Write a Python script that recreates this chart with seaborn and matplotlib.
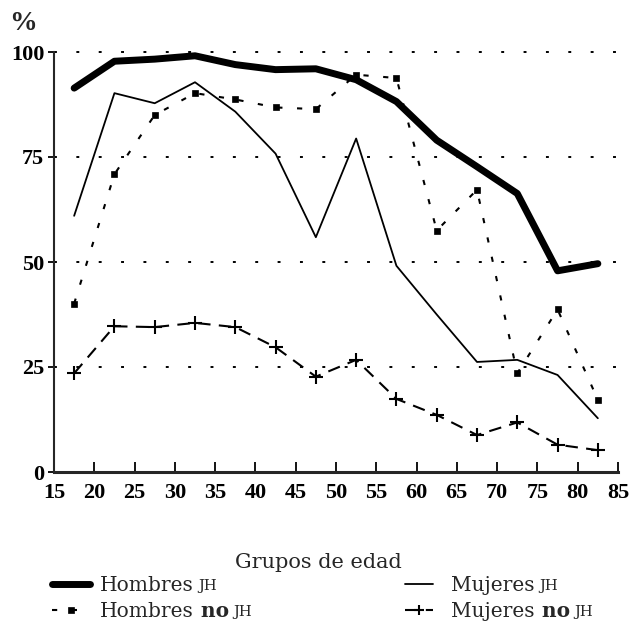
import matplotlib
matplotlib.use("Agg")
import matplotlib.pyplot as plt
import seaborn as sns
from matplotlib.text import Annotation

# Values (midpoint of each 5-year age group, %)
age_groups = [17.5, 22.5, 27.5, 32.5, 37.5, 42.5, 47.5, 52.5, 57.5, 62.5, 67.5, 72.5, 77.5, 82.5]
hombres_jh = [91.4, 97.8, 98.3, 99.1, 97.0, 95.8, 96.0, 93.4, 88.2, 79.0, 72.7, 66.3, 47.9, 49.6]
hombres_no_jh = [40.1, 70.9, 85.0, 90.2, 88.7, 86.8, 86.4, 94.6, 93.8, 57.5, 67.2, 23.5, 38.7, 17.2]
mujeres_jh = [61.0, 90.2, 87.8, 92.8, 85.8, 75.8, 55.9, 79.4, 49.1, 37.5, 26.2, 26.7, 23.1, 12.8]
mujeres_no_jh = [23.5, 34.7, 34.5, 35.5, 34.5, 29.7, 22.7, 26.7, 17.4, 13.6, 8.8, 11.8, 6.5, 5.2]

x_ticks = list(range(15, 90, 5))
y_ticks = [0, 25, 50, 75, 100]
xlabel = "Grupos de edad"

sns.set_style("ticks")
plt.rcParams["font.family"] = ["DejaVu Serif"]

fig = plt.figure(figsize=(6.3, 6.23), dpi=100)
ax = fig.add_axes([54 / 630, 1 - 472 / 623, 564 / 630, 420 / 623])

# the four series
sns.lineplot(x=age_groups, y=hombres_jh, ax=ax, color="black", linewidth=5,
             legend=False, label="Hombres")
sns.lineplot(x=age_groups, y=hombres_no_jh, ax=ax, color="black", linewidth=1.5,
             linestyle=(0, (2.5, 7)), marker="s", markersize=4,
             markerfacecolor="black", markeredgecolor="black", markeredgewidth=0.5,
             legend=False, label="Hombres")
sns.lineplot(x=age_groups, y=mujeres_jh, ax=ax, color="black", linewidth=1.3,
             legend=False, label="Mujeres")
sns.lineplot(x=age_groups, y=mujeres_no_jh, ax=ax, color="black", linewidth=1.5,
             linestyle=(0, (6, 4)), marker="+", markersize=10,
             markeredgecolor="black", markeredgewidth=1.5,
             legend=False, label="Mujeres")
for line in ax.get_lines():
    line.set_clip_on(False)

ax.set_xlim(15, 85)
ax.set_ylim(0, 100)
ax.set_xticks(x_ticks)
ax.set_yticks(y_ticks)
ax.set_xlabel("")
ax.set_ylabel("")
sns.despine(ax=ax)
ax.spines["bottom"].set_linewidth(2.2)
ax.spines["left"].set_linewidth(1.5)
ax.tick_params(axis="x", direction="in", length=7, width=1.3, pad=8, colors="black")
ax.tick_params(axis="y", direction="out", length=4, width=1.3, pad=3, colors="black")
for lab in ax.get_xticklabels() + ax.get_yticklabels():
    lab.set_fontfamily("Liberation Serif")
    lab.set_fontweight("bold")
    lab.set_fontsize(16)

ax.grid(axis="y", color="black", linestyle=(0, (1.5, 10)), linewidth=1.4)
ax.grid(axis="x", visible=False)
for gl in ax.get_ygridlines():
    gl.set_clip_on(False)

fig.text(9 / 630, 1 - 24 / 623, "%", ha="left", va="center", fontsize=20,
         fontweight="bold", family="Liberation Serif")
fig.text(318 / 630, 1 - 563 / 623, xlabel, ha="center", va="center", fontsize=15)

# legend, two columns placed like the original
handles, labels = ax.get_legend_handles_labels()
leg_kw = dict(loc="upper left", frameon=False, borderpad=0, borderaxespad=0,
              labelspacing=0.35, fontsize=14.5, numpoints=1)
leg_left = fig.legend(handles[:2], labels[:2], bbox_to_anchor=(52 / 630, 1 - 576 / 623),
                      handlelength=1.9, handletextpad=0.5, **leg_kw)
leg_right = fig.legend(handles[2:], labels[2:], bbox_to_anchor=(405 / 630, 1 - 576 / 623),
                       handlelength=1.4, handletextpad=0.9, markerscale=0.7, **leg_kw)


def add_suffix(text_artist, bold_no):
    target = text_artist
    if bold_no:
        target = Annotation(" no", xy=(1, 0), xycoords=text_artist, va="bottom", ha="left",
                            fontsize=14.5, fontweight="bold", zorder=6)
        fig.add_artist(target)
    jh = Annotation("JH", xy=(1, 0), xycoords=target, xytext=(3, 1.5),
                    textcoords="offset points", va="bottom", ha="left",
                    fontsize=10.5, zorder=7)
    fig.add_artist(jh)


for leg in (leg_left, leg_right):
    add_suffix(leg.texts[0], False)
    add_suffix(leg.texts[1], True)

plt.savefig("out.png", dpi=100)
